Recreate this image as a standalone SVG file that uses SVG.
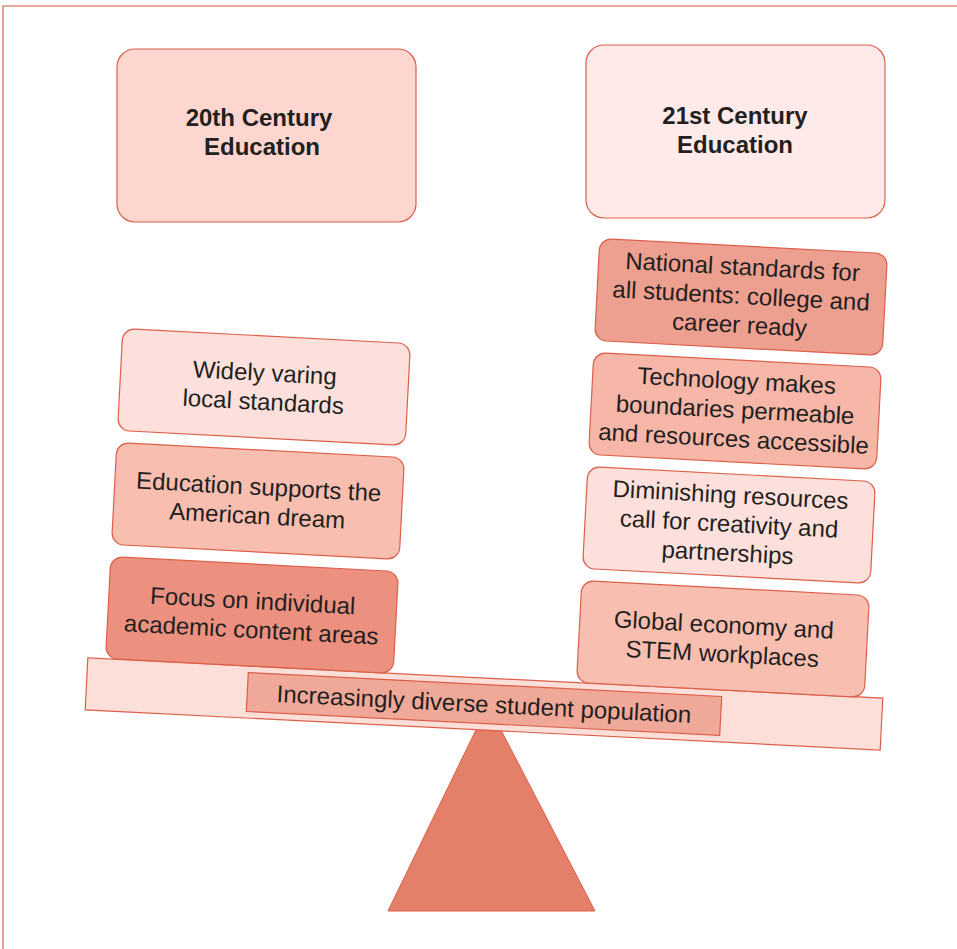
<svg xmlns="http://www.w3.org/2000/svg" width="957" height="949" viewBox="0 0 957 949">
<style>
.box{stroke:#dc5f4a;stroke-width:1.2}
.t{font-family:"Liberation Sans",Arial,sans-serif;font-size:24px;fill:#231f20;text-anchor:middle}
.h{font-family:"Liberation Sans",Arial,sans-serif;font-size:24px;font-weight:bold;fill:#231f20;text-anchor:middle}
</style>
<rect width="957" height="949" fill="#ffffff"/>
<path d="M3,949 V6 H957" fill="none" stroke="#e38b7b" stroke-width="1.6"/>
<g id="fulcrum"><polygon points="488,705 388,911 595,911" fill="#e47f69" stroke="#dc5f4a" stroke-width="1"/></g>
<g id="beam" transform="translate(484,704) rotate(2.9)">
<rect class="box" x="-398" y="-26" width="796" height="52" fill="#fddfd9"/>
<rect class="box" x="-237" y="-19.5" width="474" height="39" fill="#f0a898"/>
<text class="t" x="0" y="8.5">Increasingly diverse student population</text>
</g>
<g id="h20">
<rect class="box" x="117" y="49" width="299" height="173" rx="18" fill="#fcd6cf"/>
<text class="h" x="259" y="126">20th Century</text>
<text class="h" x="262" y="155">Education</text>
</g>
<g id="h21">
<rect class="box" x="586" y="45" width="299" height="173" rx="18" fill="#feebe9"/>
<text class="h" x="735" y="124">21st Century</text>
<text class="h" x="735" y="153">Education</text>
</g>
<g id="l1" transform="translate(264,387) rotate(3)">
<rect class="box" x="-144" y="-51" width="288" height="102" rx="12" fill="#fde0db"/>
<text class="t" x="0" y="-6">Widely varing</text>
<text class="t" x="0" y="23">local standards</text>
</g>
<g id="l2" transform="translate(258,501) rotate(3)">
<rect class="box" x="-144" y="-51" width="288" height="102" rx="12" fill="#f8beb0"/>
<text class="t" x="0" y="-6">Education supports the</text>
<text class="t" x="0" y="23">American dream</text>
</g>
<g id="l3" transform="translate(252,615) rotate(3)">
<rect class="box" x="-144" y="-51" width="288" height="102" rx="12" fill="#ec9180"/>
<text class="t" x="0" y="-6">Focus on individual</text>
<text class="t" x="0" y="23">academic content areas</text>
</g>
<g id="r1" transform="translate(741,297) rotate(3)">
<rect class="box" x="-144" y="-51" width="288" height="102" rx="12" fill="#eea090"/>
<text class="t" x="0" y="-22">National standards for</text>
<text class="t" x="0" y="7">all students: college and</text>
<text class="t" x="0" y="36">career ready</text>
</g>
<g id="r2" transform="translate(735,411) rotate(3)">
<rect class="box" x="-144" y="-51" width="288" height="102" rx="12" fill="#f6b6a8"/>
<text class="t" x="0" y="-22">Technology makes</text>
<text class="t" x="0" y="7">boundaries permeable</text>
<text class="t" x="0" y="36">and resources accessible</text>
</g>
<g id="r3" transform="translate(729,525) rotate(3)">
<rect class="box" x="-144" y="-51" width="288" height="102" rx="12" fill="#fde0db"/>
<text class="t" x="0" y="-22">Diminishing resources</text>
<text class="t" x="0" y="7">call for creativity and</text>
<text class="t" x="0" y="36">partnerships</text>
</g>
<g id="r4" transform="translate(723,639) rotate(3)">
<rect class="box" x="-144" y="-51" width="288" height="102" rx="12" fill="#f8beb0"/>
<text class="t" x="0" y="-6">Global economy and</text>
<text class="t" x="0" y="23">STEM workplaces</text>
</g>
<g id="connectors"></g>
</svg>
